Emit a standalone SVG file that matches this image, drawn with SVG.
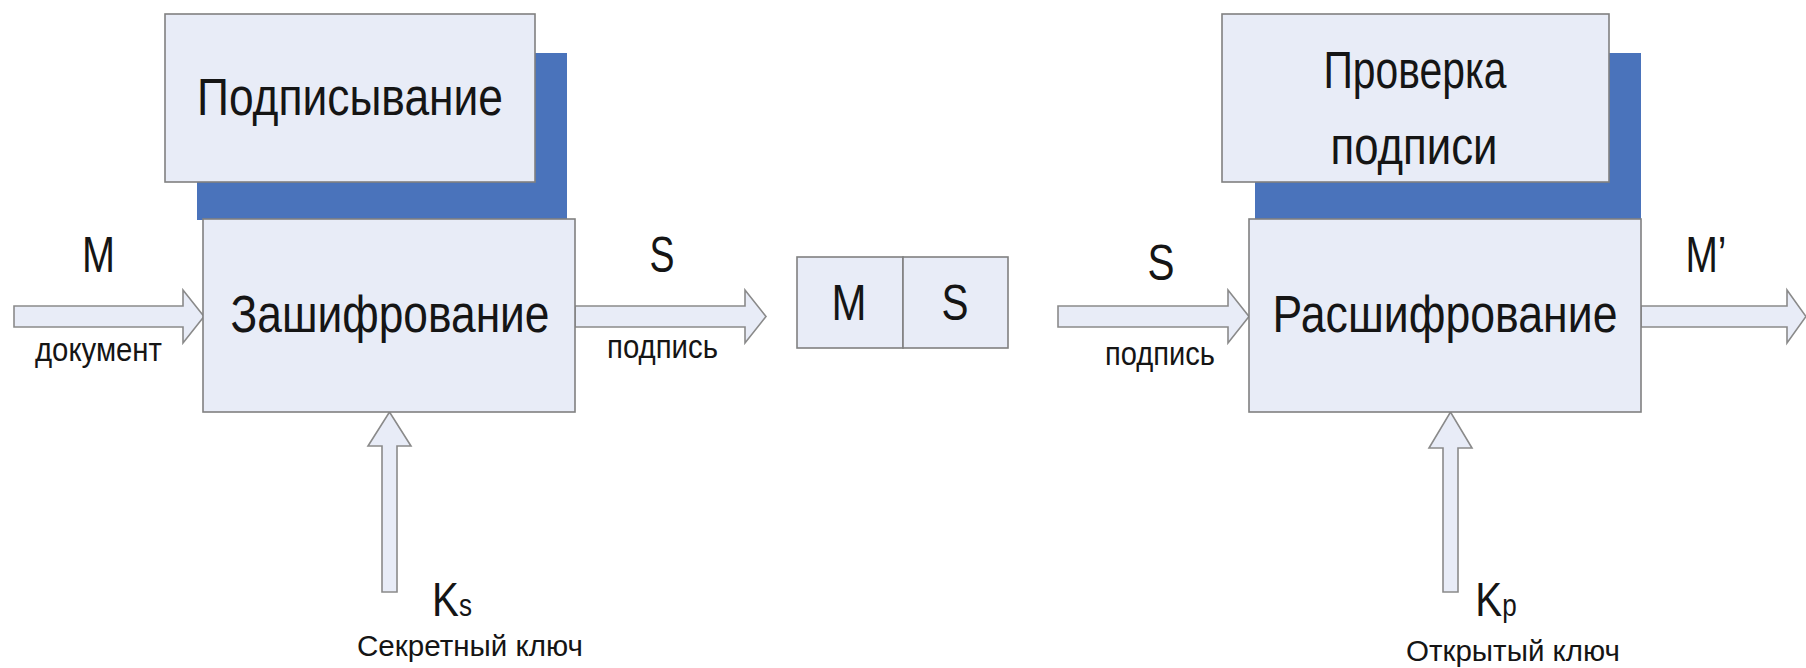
<svg xmlns="http://www.w3.org/2000/svg" width="1806" height="668" viewBox="0 0 1806 668">
<style>
  .box { fill: #e8ecf7; stroke: #808080; stroke-width: 1.6; }
  .shadow { fill: #4a73bb; stroke: none; }
  .arrow { fill: #e8ecf7; stroke: #8a8a8a; stroke-width: 1.6; stroke-linejoin: miter; }
  text { font-family: "Liberation Sans", Arial, sans-serif; fill: #151515; }
  .big { font-size: 51px; text-anchor: middle; }
  .lab { font-size: 50px; text-anchor: middle; }
  .klab { font-size: 48px; text-anchor: middle; }
  .sub { font-size: 31px; }
  .small { font-size: 33px; text-anchor: middle; }
  .key { font-size: 29px; text-anchor: middle; }
</style>
<rect width="1806" height="668" fill="#ffffff"/>

<g id="connectors">
  <path class="arrow" d="M14,306 H183 V290 L204,316.5 L183,343 V327 H14 Z"/>
  <path class="arrow" d="M575,306 H745 V290 L766,316.5 L745,343 V327 H575 Z"/>
  <path class="arrow" d="M1058,306 H1228 V290 L1249,316.5 L1228,343 V327 H1058 Z"/>
  <path class="arrow" d="M1641,306 H1787 V290 L1806,316.5 L1787,343 V327 H1641 Z"/>
  <path class="arrow" d="M382,592 V446 H368 L389.5,412 L411,446 H397 V592 Z"/>
  <path class="arrow" d="M1443,592 V448 H1429 L1450.5,412 L1472,448 H1458 V592 Z"/>
</g>

<g id="sign">
  <rect class="shadow" x="197" y="53" width="370" height="167"/>
  <rect class="box" x="165" y="14" width="370" height="168"/>
  <text class="big" x="350" y="115" textLength="306" lengthAdjust="spacingAndGlyphs">Подписывание</text>
</g>

<g id="encrypt">
  <rect class="box" x="203" y="219" width="372" height="193"/>
  <text class="big" x="390" y="332" textLength="319" lengthAdjust="spacingAndGlyphs">Зашифрование</text>
</g>

<g id="message">
  <rect class="box" x="797" y="257" width="106" height="91"/>
  <rect class="box" x="903" y="257" width="105" height="91"/>
  <text class="lab" x="849" y="320" textLength="35" lengthAdjust="spacingAndGlyphs">M</text>
  <text class="lab" x="955" y="320" textLength="27" lengthAdjust="spacingAndGlyphs">S</text>
</g>

<g id="verify">
  <rect class="shadow" x="1255" y="53" width="386" height="167"/>
  <rect class="box" x="1222" y="14" width="387" height="168"/>
  <text class="big" x="1415" y="88" textLength="183" lengthAdjust="spacingAndGlyphs">Проверка</text>
  <text class="big" x="1414" y="164" textLength="167" lengthAdjust="spacingAndGlyphs">подписи</text>
</g>

<g id="decrypt">
  <rect class="box" x="1249" y="219" width="392" height="193"/>
  <text class="big" x="1445" y="332" textLength="345" lengthAdjust="spacingAndGlyphs">Расшифрование</text>
</g>

<g id="labels">
  <text class="lab" x="98.5" y="272" textLength="33" lengthAdjust="spacingAndGlyphs">M</text>
  <text class="small" x="98.5" y="361" textLength="127" lengthAdjust="spacingAndGlyphs">документ</text>
  <text class="lab" x="662" y="272" textLength="25" lengthAdjust="spacingAndGlyphs">S</text>
  <text class="small" x="662.5" y="358" textLength="111" lengthAdjust="spacingAndGlyphs">подпись</text>
  <text class="lab" x="1161" y="280" textLength="27" lengthAdjust="spacingAndGlyphs">S</text>
  <text class="small" x="1160" y="365" textLength="110" lengthAdjust="spacingAndGlyphs">подпись</text>
  <text class="lab" x="1706" y="272" textLength="41" lengthAdjust="spacingAndGlyphs">M’</text>
  <text class="klab" transform="translate(452 616) scale(0.84 1)" x="0" y="0">K<tspan class="sub">s</tspan></text>
  <text class="key" x="470" y="656" textLength="226" lengthAdjust="spacingAndGlyphs">Секретный ключ</text>
  <text class="klab" transform="translate(1496 616) scale(0.84 1)" x="0" y="0">K<tspan class="sub">p</tspan></text>
  <text class="key" x="1513" y="661" textLength="214" lengthAdjust="spacingAndGlyphs">Открытый ключ</text>
</g>
</svg>
